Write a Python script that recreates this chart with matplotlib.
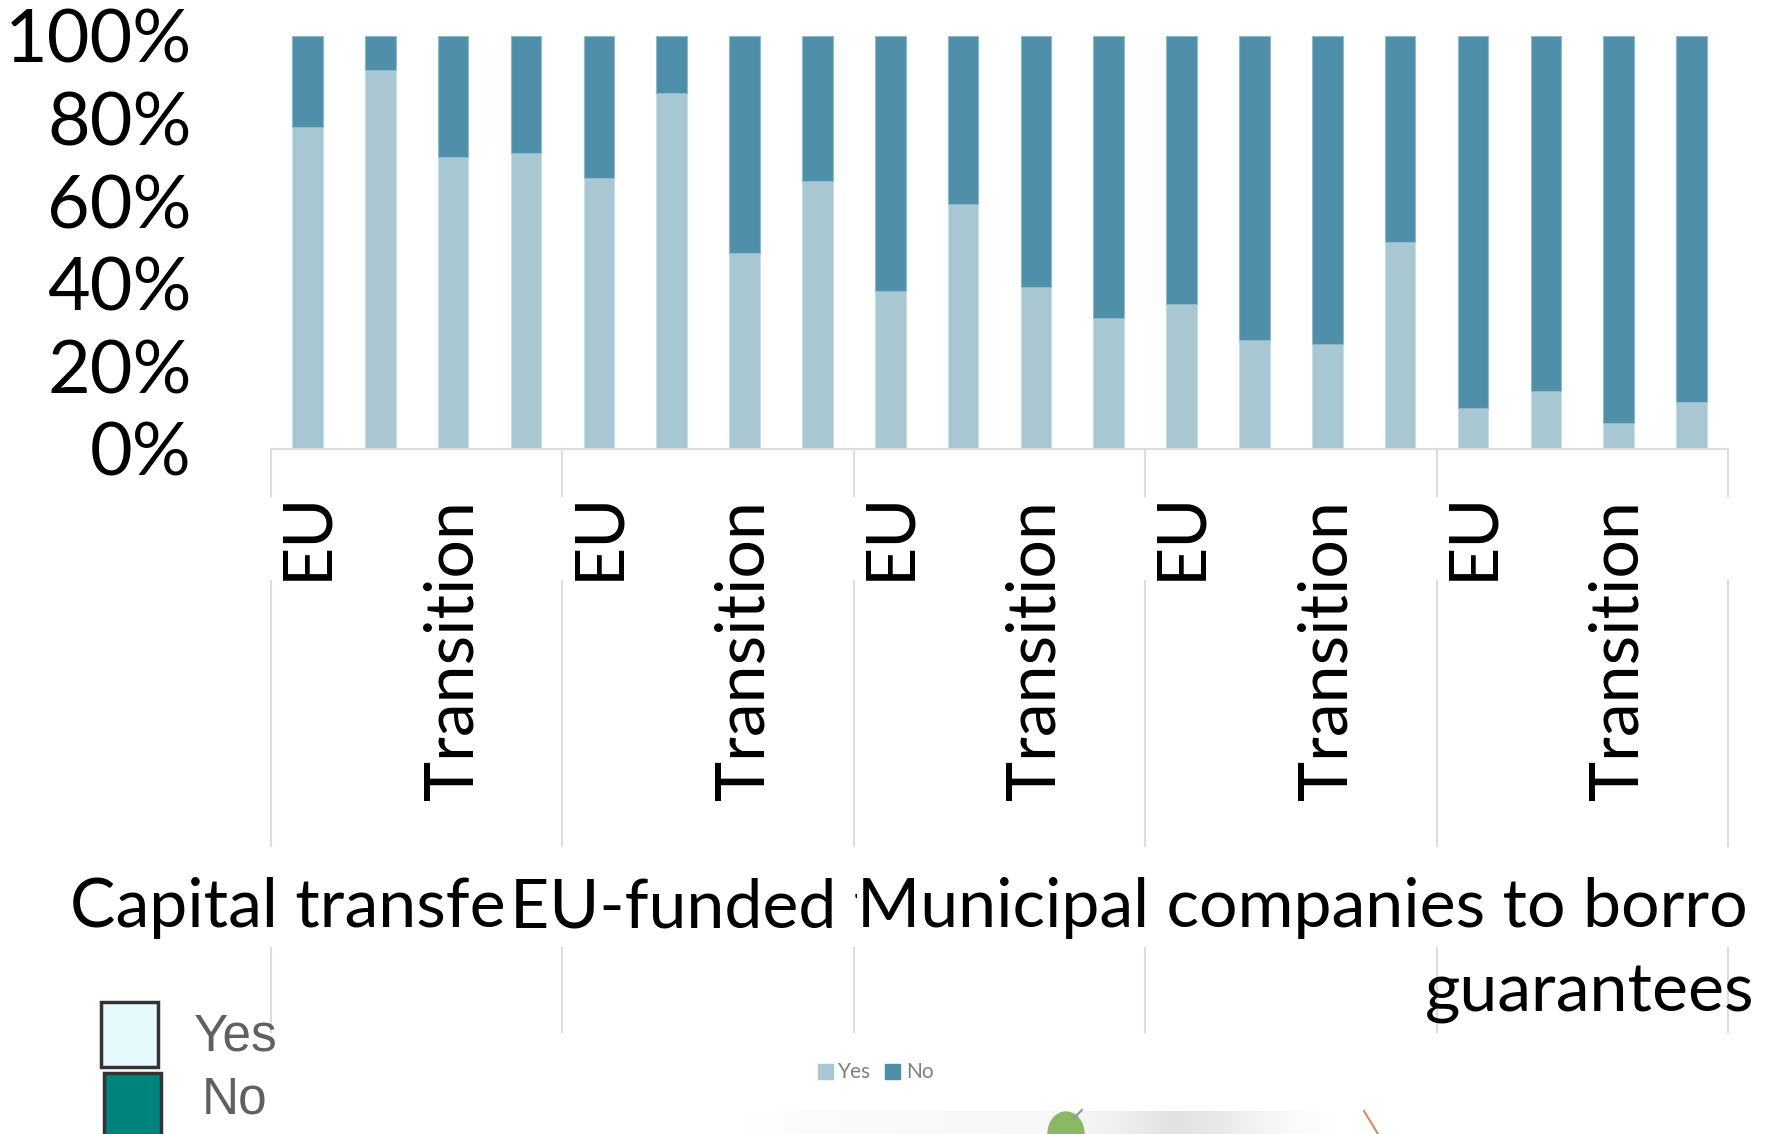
import numpy as np
import matplotlib.pyplot as plt
from matplotlib.patches import Rectangle, Ellipse
from matplotlib.lines import Line2D
from matplotlib.transforms import Bbox, TransformedBbox

W, H = 1769, 1134

# data (share of answers per bar)
group_labels = ["Capital transfe", "EU-funded f", "Municipal companies to borro"]
group_label_line2 = "guarantees"
sub_labels = ["EU", "", "Transition", ""] * 5
yes_share = [0.780, 0.917, 0.707, 0.716, 0.655, 0.861, 0.475, 0.650, 0.382, 0.594,
             0.393, 0.316, 0.352, 0.264, 0.254, 0.501, 0.099, 0.140, 0.063, 0.115]
no_share = [0.220, 0.083, 0.293, 0.284, 0.345, 0.139, 0.525, 0.350, 0.618, 0.406,
            0.607, 0.684, 0.648, 0.736, 0.746, 0.499, 0.901, 0.860, 0.937, 0.885]
y_ticks = [0, 0.2, 0.4, 0.6, 0.8, 1.0]
y_ticklabels = ["0%", "20%", "40%", "60%", "80%", "100%"]

YES_C = "#A8C7D2"
NO_C = "#4F8FAA"
GRID_C = "#DCDCDC"


def fx(px):
    return px / W


def fy(py):
    return 1 - py / H


plt.rcParams['font.family'] = ['Lato', 'DejaVu Sans']

fig = plt.figure(figsize=(W / 100, H / 100), dpi=100)
ax_left, ax_right, ax_top, ax_bot = 271, 1728, 36, 449
ax = fig.add_axes([fx(ax_left), fy(ax_bot), fx(ax_right) - fx(ax_left), (ax_bot - ax_top) / H])

x = np.arange(len(yes_share))
ax.bar(x, yes_share, width=0.42, color=YES_C, edgecolor="#C9DDE4", linewidth=0.8)
ax.bar(x, no_share, bottom=yes_share, width=0.42, color=NO_C, edgecolor="#8FB8C9", linewidth=0.8)

ax.set_xlim(-0.5, len(x) - 0.5)
ax.set_ylim(0, 1)
for s in ["top", "right", "left"]:
    ax.spines[s].set_visible(False)
ax.spines["bottom"].set_color(GRID_C)
ax.spines["bottom"].set_linewidth(1.5)
ax.set_xticks([])
ax.set_yticks(y_ticks)
ax.set_yticklabels(y_ticklabels, fontsize=53)
ax.tick_params(axis="y", length=0, pad=57)

# rotated inner category labels, text end pinned just below the axis
span = ax_bot - ax_top
anchor_px = {"EU": 491, "Transition": 500}
for i, lab in enumerate(sub_labels):
    if lab:
        ax.text(i, (ax_bot - anchor_px[lab]) / span, lab, rotation=90, rotation_mode="anchor",
                ha="right", va="center", fontsize=49,
                transform=ax.get_xaxis_transform(), clip_on=False)

# group separators below the axis
segments = [(449, 496), (581, 846), (948, 1032)]
for b in np.arange(-0.5, len(x), 4):
    for a0, a1 in segments:
        ax.plot([b, b], [(ax_bot - a0) / span, (ax_bot - a1) / span], color=GRID_C,
                lw=1.5, transform=ax.get_xaxis_transform(), clip_on=False)

# outer group labels, each clipped where the next one starts
starts = [70, 510, 857]
ends = [510, 857, W]
for lab, p0, p1 in zip(group_labels, starts, ends):
    t = fig.text(fx(p0), fy(927), lab, fontsize=49, ha="left", va="baseline")
    t.set_clip_box(TransformedBbox(Bbox([[fx(p0), fy(960)], [fx(p1), fy(850)]]), fig.transFigure))
    t.set_clip_on(True)
fig.text(fx(1754), fy(1011), group_label_line2, fontsize=49, ha="right", va="baseline")

# small legend in the middle
fig.patches.append(Rectangle((fx(818), fy(1079)), 15 / W, 15 / H, color=YES_C, transform=fig.transFigure))
fig.text(fx(838), fy(1072), "Yes", fontsize=15, color="#7F7F7F", va="center")
fig.patches.append(Rectangle((fx(885), fy(1079)), 15 / W, 15 / H, color=NO_C, transform=fig.transFigure))
fig.text(fx(906), fy(1072), "No", fontsize=15, color="#7F7F7F", va="center")

# big legend bottom-left
fig.patches.append(Rectangle((fx(101), fy(1067)), 57 / W, 65 / H, facecolor="#E6FAFD",
                             edgecolor="#333333", lw=2.5, transform=fig.transFigure))
fig.patches.append(Rectangle((fx(104), fy(1140)), 57 / W, 67 / H, facecolor="#00837C",
                             edgecolor="#333333", lw=2.5, transform=fig.transFigure))
fig.text(fx(194), fy(1037), "Yes", fontsize=37, color="#606060", va="center",
         family="Liberation Sans")
fig.text(fx(202), fy(1100), "No", fontsize=37, color="#606060", va="center",
         family="Liberation Sans")

# cropped picture strip at the bottom
ax_g = fig.add_axes([fx(742), 0, fx(1340) - fx(742), (H - 1111) / H])
pos = np.linspace(0, 1, 300)
shade = np.interp(pos, [0, 0.1, 0.55, 0.72, 0.8, 0.92, 1.0], [0.0, 0.03, 0.07, 0.2, 0.17, 0.04, 0.0])
ax_g.imshow(shade[None, :], cmap="Greys", vmin=0, vmax=1, aspect="auto")
ax_g.axis("off")
fig.add_artist(Line2D([fx(1074), fx(1082)], [fy(1118), fy(1110)], color="#8A9AA8", lw=1.5))
fig.patches.append(Ellipse((fx(1066), fy(1134)), 36 / W, 44 / H, color="#8BB863", transform=fig.transFigure))
fig.add_artist(Line2D([fx(1364), fx(1378)], [fy(1111), fy(1134)], color="#D98B5F", lw=1.5))

fig.savefig("out.png", dpi=100)
